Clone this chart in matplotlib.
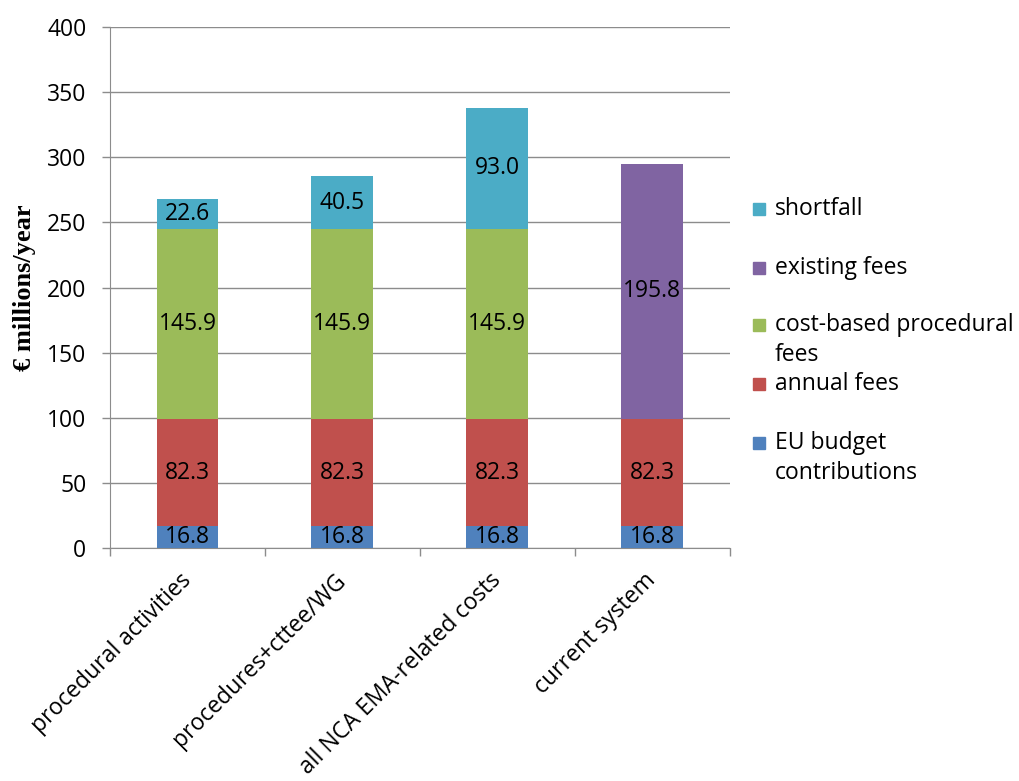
import matplotlib
matplotlib.use("Agg")
import matplotlib.pyplot as plt
import numpy as np

plt.rcParams['font.family'] = ['Open Sans', 'DejaVu Sans']

categories = ["procedural activities", "procedures+cttee/WG",
              "all NCA EMA-related costs", "current system"]
eu_budget = [16.8, 16.8, 16.8, 16.8]
annual_fees = [82.3, 82.3, 82.3, 82.3]
cost_based = [145.9, 145.9, 145.9, 0.0]
existing_fees = [0.0, 0.0, 0.0, 195.8]
shortfall = [22.6, 40.5, 93.0, 0.0]

series = [
    ("EU budget\ncontributions", eu_budget, "#4F81BD"),
    ("annual fees", annual_fees, "#C0504D"),
    ("cost-based procedural\nfees", cost_based, "#9BBB59"),
    ("existing fees", existing_fees, "#8064A2"),
    ("shortfall", shortfall, "#4BACC6"),
]

FS = 16.5

fig = plt.figure(figsize=(10.19, 7.81), dpi=100)
ax = fig.add_axes([0.108, 0.2983, 0.608, 0.6671])

x = np.arange(len(categories))
bottom = np.zeros(len(categories))
for name, vals, col in series:
    vals = np.array(vals)
    ax.bar(x, vals, 0.4, bottom=bottom, color=col, zorder=3)
    for xi, b, v in zip(x, bottom, vals):
        if v > 0:
            ax.text(xi, b + v / 2, "%.1f" % v, ha='center', va='center',
                    fontsize=FS, color='black', zorder=4)
    bottom += vals

ax.set_xlim(-0.5, 3.5)
ax.set_ylim(0, 400)
ax.set_yticks(np.arange(0, 401, 50))
ax.yaxis.grid(True, color='#8c8c8c', linewidth=1, zorder=0)
ax.tick_params(axis='y', labelsize=FS, length=6, color='#8c8c8c', width=1, pad=11)
for s in ['top', 'right']:
    ax.spines[s].set_visible(False)
for s in ['left', 'bottom']:
    ax.spines[s].set_color('#8c8c8c')

ax.set_xticks(x)
ax.set_xticklabels(categories, rotation=45, ha='right', va='center',
                   rotation_mode='anchor', fontsize=FS)
ax.tick_params(axis='x', length=0, pad=21)
ax.set_xticks(np.arange(-0.5, 3.6, 1), minor=True)
ax.tick_params(axis='x', which='minor', length=6, color='#8c8c8c', width=1)

ax.set_ylabel("€ millions/year", fontsize=19, fontweight='bold',
              family='Liberation Serif', labelpad=8)

# legend, drawn in Excel's uneven spacing
leg_items = [
    ("shortfall", "#4BACC6", 209),
    ("existing fees", "#8064A2", 268),
    ("cost-based procedural\nfees", "#9BBB59", 340),
    ("annual fees", "#C0504D", 384),
    ("EU budget\ncontributions", "#4F81BD", 458),
]
H = 781.0
for label, col, ypix in leg_items:
    nl = label.count("\n")
    ysq = ypix - nl * 15.5
    fig.patches.append(plt.Rectangle((753 / 1019.0, 1 - (ysq + 6) / H), 12 / 1019.0, 12 / H,
                                     transform=fig.transFigure, color=col))
    fig.text(775 / 1019.0, 1 - ypix / H, label, ha='left', va='center',
             fontsize=FS, linespacing=1.3)

fig.savefig("out.png", dpi=100)
